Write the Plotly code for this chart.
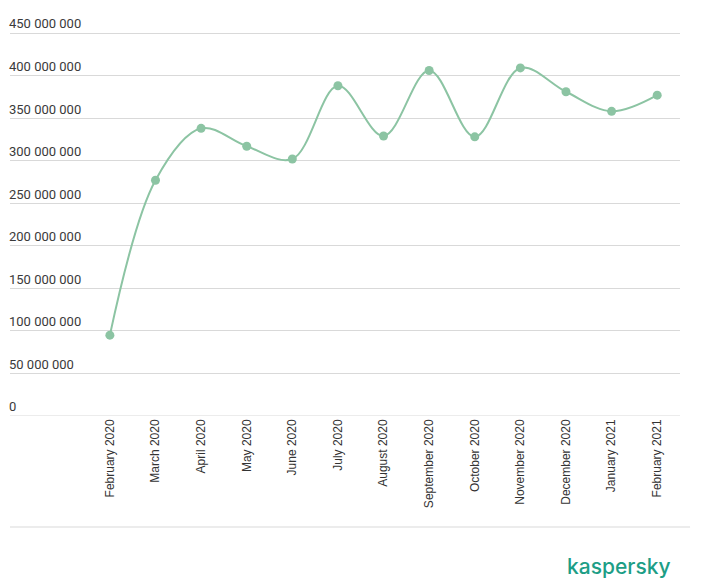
import plotly.graph_objects as go

months = ["February 2020", "March 2020", "April 2020", "May 2020", "June 2020",
          "July 2020", "August 2020", "September 2020", "October 2020",
          "November 2020", "December 2020", "January 2021", "February 2021"]
values = [95_000_000, 277_000_000, 338_000_000, 317_000_000, 302_000_000,
          388_000_000, 329_000_000, 406_000_000, 328_000_000,
          409_000_000, 381_000_000, 358_000_000, 377_000_000]
y_ticks = [0, 50_000_000, 100_000_000, 150_000_000, 200_000_000, 250_000_000,
           300_000_000, 350_000_000, 400_000_000, 450_000_000]
y_tick_text = ["0", "50 000 000", "100 000 000", "150 000 000", "200 000 000",
               "250 000 000", "300 000 000", "350 000 000", "400 000 000", "450 000 000"]

GREEN = "#8cc4a3"

fig = go.Figure()
fig.add_trace(go.Scatter(
    x=list(range(len(months))), y=values, mode="lines+markers",
    line=dict(color=GREEN, width=2, shape="spline", smoothing=1.0),
    marker=dict(color=GREEN, size=9),
    hoverinfo="skip", showlegend=False,
))

fig.update_layout(
    width=702, height=578,
    margin=dict(l=10, r=22, t=16, b=162, autoexpand=False),
    paper_bgcolor="white", plot_bgcolor="white",
    font=dict(family="Roboto", color="#444"),
    xaxis=dict(
        range=[-2.19, 12.5], tickmode="array",
        tickvals=list(range(len(months))), ticktext=months,
        tickangle=-90, showgrid=False, zeroline=False, showline=False,
        ticks="", automargin=False,
        tickfont=dict(family="Liberation Sans, Arial", size=12, color="#333"),
    ),
    yaxis=dict(
        range=[0, 470_000_000], tickmode="array", tickvals=y_ticks,
        ticktext=y_tick_text, ticklabelposition="inside top",
        ticklabelstandoff=-4,
        showgrid=True, gridcolor="#d9d9d9", gridwidth=1,
        zeroline=False, showline=False, ticks="", automargin=False,
        tickfont=dict(family="Roboto", size=13, color="#3a3a3a"),
    ),
    shapes=[dict(type="line", xref="paper", yref="paper",
                 x0=0, x1=1.015, y0=-0.2775, y1=-0.2775,
                 line=dict(color="#d9d9d9", width=1)),
            dict(type="line", xref="paper", yref="y",
                 x0=0, x1=1, y0=0, y1=0,
                 line=dict(color="#d9d9d9", width=1))],
    annotations=[dict(text="kaspersky", xref="paper", yref="paper",
                      x=0.9896, y=-0.375, xanchor="right", yanchor="middle",
                      showarrow=False,
                      font=dict(family="Inter", size=21, color="#1d9e86", weight=500))],
)

fig.write_html("out.html")
